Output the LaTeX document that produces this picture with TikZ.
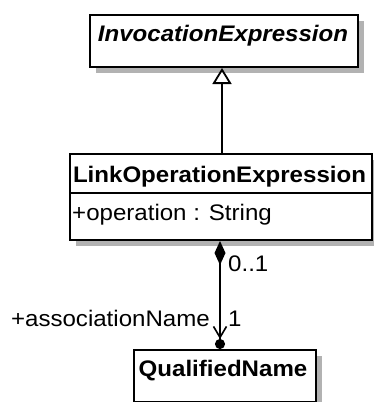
\documentclass[tikz,border=0pt]{standalone}
\usepackage{fontspec}
\setmainfont{Liberation Sans}[FakeStretch=1.07]
\usetikzlibrary{arrows.meta,shadows}
\begin{document}
\begin{tikzpicture}[x=1pt,y=-1pt,
  box/.style={draw=black,line width=2pt,fill=white,inner sep=0pt,anchor=north west,
    drop shadow={shadow xshift=6pt,shadow yshift=-6pt,opacity=1,fill=black!30}},
  lbl/.style={inner sep=0pt,font=\fontsize{22.5}{26}\selectfont},
  conn/.style={line width=1.9pt}]
\useasboundingbox (0,0) rectangle (373,402);
% boxes
\node[box,minimum width=268pt,minimum height=52pt] (ie) at (89,14) {};
\node[box,minimum width=302pt,minimum height=86pt] (loe) at (69,153) {};
\node[box,minimum width=182pt,minimum height=52pt] (qn) at (133,349) {};
\draw[line width=2pt] (loe.north west) ++(0,40) coordinate (dl) -- (dl -| loe.east);
% texts
\node[lbl,anchor=base,font=\fontsize{22.5}{26}\selectfont\bfseries\itshape] (iet) at (223,41) {InvocationExpression};
\node[lbl,anchor=base,font=\fontsize{22.5}{26}\selectfont\bfseries] (loet) at (219.5,182) {LinkOperationExpression};
\node[lbl,anchor=base west] (op) at (72,220) {+operation : String};
\node[lbl,anchor=base,font=\fontsize{22.5}{26}\selectfont\bfseries] (qnt) at (223,376) {QualifiedName};
% connectors
\coordinate (g) at (222,0);
\coordinate (c) at (220,0);
\draw[conn,-{Triangle[open,length=16pt,width=19pt,line width=1.8pt]}] (loe.north -| g) -- (ie.south -| g);
\draw[conn,{Diamond[length=24pt,width=11pt]}-{Straight Barb[length=11pt,width=13pt,line width=1.6pt]Circle[length=10pt,width=10pt]}] (loe.south -| c) -- (qn.north -| c);
% labels
\node[lbl,anchor=base west] (m1) at (228,271) {0..1};
\node[lbl,anchor=base east] (rn) at (210,326) {+associationName};
\node[lbl,anchor=base west] (m2) at (228,326) {1};
\end{tikzpicture}
\end{document}
